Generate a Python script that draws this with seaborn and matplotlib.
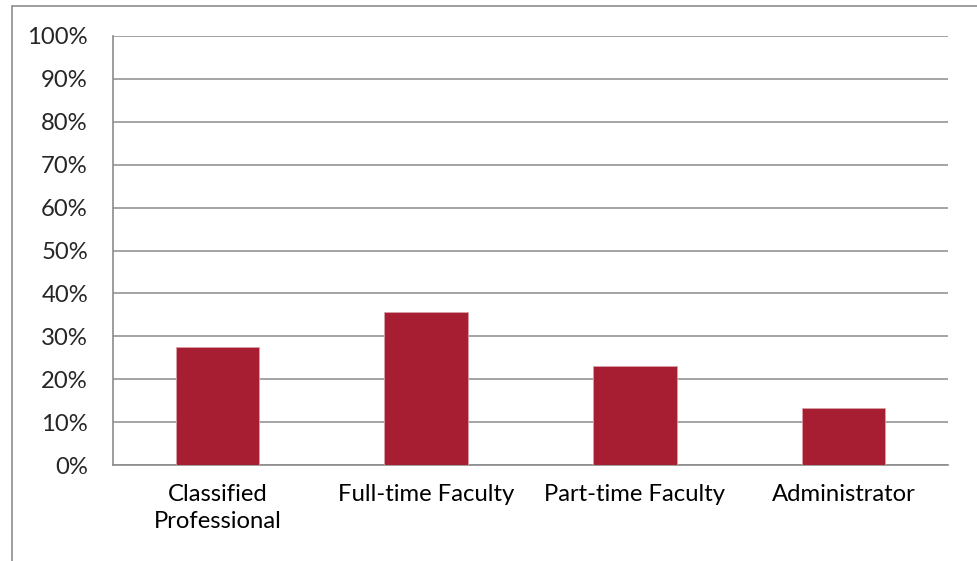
import numpy as np
import pandas as pd
import matplotlib
matplotlib.use('Agg')
import matplotlib.pyplot as plt
import seaborn as sns
from matplotlib.lines import Line2D
from matplotlib.ticker import FixedLocator, PercentFormatter

# Data
categories = ['Classified\nProfessional', 'Full-time Faculty', 'Part-time Faculty', 'Administrator']
shares = [27.5, 35.7, 23.1, 13.3]
y_ticks = list(range(0, 101, 10))

bar_color = '#A71E33'
line_color = '#8C8C8C'

sns.set_style('white')
plt.rcParams['font.family'] = ['Lato', 'DejaVu Sans']
plt.rcParams['font.size'] = 17.2

df = pd.DataFrame({'group': categories, 'share': shares})

fig = plt.figure(figsize=(9.77, 5.61), dpi=100)
ax = fig.add_axes([113 / 977, 1 - 465 / 561, (948 - 113) / 977, (465 - 36) / 561])

sns.barplot(data=df, x='group', y='share', color=bar_color, width=0.4,
            saturation=1, edgecolor='#D9A0A8', linewidth=0.6, ax=ax, zorder=3)

ax.set_xlim(-0.5, len(categories) - 0.5)
ax.set_ylim(0, 100)
ax.set_yticks(y_ticks)
ax.yaxis.set_major_formatter(PercentFormatter(decimals=0))
ax.set_xlabel('')
ax.set_ylabel('')

# category labels centred, tick marks at the category boundaries
ax.set_xticks(range(len(categories)))
ax.set_xticklabels(categories, linespacing=1.35)
ax.xaxis.set_minor_locator(FixedLocator(np.arange(-0.5, len(categories), 1.0)))
ax.tick_params(axis='x', which='major', length=0, pad=14, colors='black')
ax.tick_params(axis='x', which='minor', length=6, width=1.2, color=line_color, direction='out')
ax.tick_params(axis='y', length=6, width=1.2, color=line_color, pad=12, direction='out')

ax.yaxis.grid(True, color=line_color, linewidth=1.1, zorder=0)
ax.set_axisbelow(True)
for side in ['top', 'right']:
    ax.spines[side].set_visible(False)
for side in ['left', 'bottom']:
    ax.spines[side].set_color(line_color)
    ax.spines[side].set_linewidth(1.2)

# outer chart frame (cut off on the right and bottom)
fx = 12 / 977
fy = 1 - 6 / 561
fig.add_artist(Line2D([fx, 1.0], [fy, fy], color=line_color, linewidth=1.2))
fig.add_artist(Line2D([fx, fx], [0, fy], color=line_color, linewidth=1.2))

fig.savefig('out.png', dpi=100)
